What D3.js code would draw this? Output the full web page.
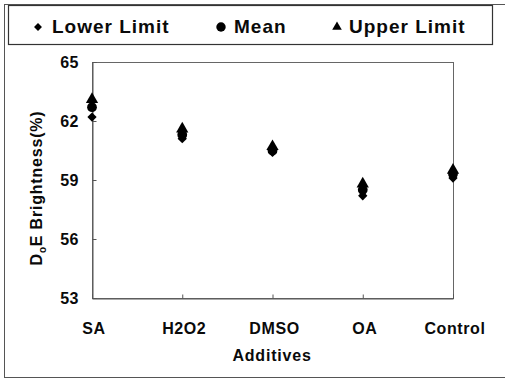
<!DOCTYPE html>
<html>
<head>
<meta charset="utf-8">
<script src="https://cdn.jsdelivr.net/npm/d3@7"></script>
<style>
  html, body { margin: 0; padding: 0; background: #fff; }
  svg { display: block; }
  text { font-family: "Liberation Sans", Arial, sans-serif; font-weight: bold; fill: #0a0a0a; }
</style>
</head>
<body>
<svg id="chart" width="505" height="382"></svg>
<script>
// Brightness by additive: lower limit, mean, upper limit
const additives = ["SA", "H2O2", "DMSO", "OA", "Control"];
const lowerLimit = [62.2, 61.1, 60.4, 58.2, 59.1];
const meanValues = [62.7, 61.3, 60.5, 58.5, 59.3];
const upperLimit = [63.1, 61.6, 60.7, 58.8, 59.5];
const yTicks = [53, 56, 59, 62, 65];

const svg = d3.select("#chart");
const plot = { left: 92, right: 453, top: 62, bottom: 298 };

// outer figure frame (right edge runs off the page)
svg.append("rect")
  .attr("x", 4.5).attr("y", 4.5).attr("width", 510).attr("height", 373)
  .attr("fill", "none").attr("stroke", "#555").attr("stroke-width", 1);

// legend box
svg.append("rect")
  .attr("x", 8.5).attr("y", 5.5).attr("width", 484).attr("height", 39)
  .attr("fill", "#fff").attr("stroke", "#333").attr("stroke-width", 1.2);

const x = d3.scalePoint().domain(additives).range([plot.left, plot.right]);
const y = d3.scaleLinear().domain([53, 65]).range([plot.bottom, plot.top]);

// plot frame
svg.append("rect")
  .attr("x", plot.left + 0.5).attr("y", plot.top + 0.5)
  .attr("width", plot.right - plot.left).attr("height", plot.bottom - plot.top)
  .attr("fill", "none").attr("stroke", "#666").attr("stroke-width", 1);

// y axis (inward ticks)
const yAxis = svg.append("g")
  .attr("transform", `translate(${plot.left + 0.5},0)`)
  .call(d3.axisRight(y).tickValues(yTicks).tickSize(4).tickFormat(""));
yAxis.select(".domain").attr("stroke", "#555");
yAxis.selectAll(".tick line").attr("stroke", "#555");
svg.append("g").selectAll("text").data(yTicks).join("text")
  .attr("x", 79).attr("y", d => y(d) + 6)
  .attr("text-anchor", "end").attr("font-size", 16).attr("letter-spacing", 0.5)
  .text(d => d);

// x axis (inward ticks)
const xAxis = svg.append("g")
  .attr("transform", `translate(0,${plot.bottom + 0.5})`)
  .call(d3.axisTop(x).tickSize(4).tickFormat(""));
xAxis.select(".domain").attr("stroke", "#555");
xAxis.selectAll(".tick line").attr("stroke", "#555");
svg.append("g").selectAll("text").data(additives).join("text")
  .attr("x", d => x(d) + 2)
  .attr("y", 334)
  .attr("text-anchor", "middle")
  .attr("font-size", 16).attr("letter-spacing", 0.6)
  .text(d => d);

// axis titles
svg.append("text")
  .attr("x", 272).attr("y", 361)
  .attr("text-anchor", "middle").attr("font-size", 16).attr("letter-spacing", 0.8)
  .text("Additives");

const yTitle = svg.append("text")
  .attr("transform", `translate(42,188) rotate(-90)`)
  .attr("text-anchor", "middle").attr("font-size", 16).attr("letter-spacing", 0.8);
yTitle.append("tspan").text("D");
yTitle.append("tspan").attr("font-size", 10).attr("dy", 4).text("o");
yTitle.append("tspan").attr("dy", -4).text("E Brightness(%)");

// markers
const series = [
  { name: "Lower Limit", values: lowerLimit, type: d3.symbolDiamond2, size: 55, legendSize: 40 },
  { name: "Mean", values: meanValues, type: d3.symbolCircle, size: 75, legendSize: 70 },
  { name: "Upper Limit", values: upperLimit, type: d3.symbolTriangle, size: 65, legendSize: 40 }
];

series.forEach(s => {
  svg.append("g").selectAll("path").data(s.values).join("path")
    .attr("transform", (d, i) => `translate(${x(additives[i])},${y(d)})`)
    .attr("d", d3.symbol().type(s.type).size(s.size)())
    .attr("fill", "#000");
});

// legend entries
const legendPos = [
  { mx: 38, tx: 52 },
  { mx: 221, tx: 234 },
  { mx: 337, tx: 349 }
];
series.forEach((s, i) => {
  svg.append("path")
    .attr("transform", `translate(${legendPos[i].mx},27)`)
    .attr("d", d3.symbol().type(s.type).size(s.legendSize)())
    .attr("fill", "#000");
  svg.append("text")
    .attr("x", legendPos[i].tx).attr("y", 33)
    .attr("font-size", 19).attr("letter-spacing", 1)
    .text(s.name);
});
</script>
</body>
</html>
